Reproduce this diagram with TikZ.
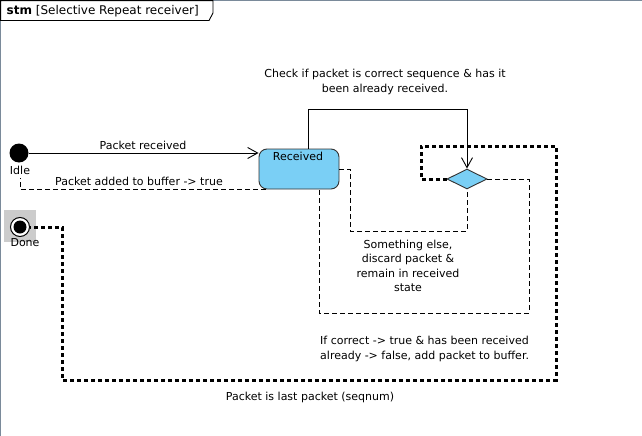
\documentclass[tikz,border=0pt]{standalone}
\usepackage{fontspec}
\setmainfont{DejaVu Sans}
\usetikzlibrary{arrows.meta,shapes.geometric}
\definecolor{stfill}{RGB}{122,207,245}
\definecolor{framecol}{RGB}{122,138,154}
\definecolor{donebg}{RGB}{204,204,204}
\tikzset{
  lbl/.style={inner sep=0pt, font=\fontsize{11}{14.3}\selectfont, align=center},
  statebox/.style={draw=black!80, line width=0.9pt, fill=stfill, rounded corners=8pt, minimum width=80pt, minimum height=40pt, inner sep=0pt},
  decbox/.style={diamond, draw=black!80, line width=0.9pt, fill=stfill, minimum width=40pt, minimum height=20pt, inner sep=0pt},
  solidedge/.style={line width=0.9pt, -{Straight Barb[length=10pt,width=11pt,line width=0.9pt]}},
  dashedge/.style={line width=0.9pt, dash pattern=on 5pt off 3pt},
  dotedge/.style={line width=3pt, dash pattern=on 4pt off 3pt},
}
\begin{document}
\begin{tikzpicture}[x=1pt,y=-1pt]
\useasboundingbox (0,0) rectangle (642,436);
\fill[white] (0,0) rectangle (642,436);
% frame
\draw[framecol, line width=1.2pt] (0.6,436) -- (0.6,0.6) -- (642,0.6);
\draw[black, line width=0.9pt, fill=white] (0.6,0.6) -- (213,0.6) -- (213,13) -- (209,20.5) -- (0.6,20.5) -- cycle;
\node[lbl, anchor=west, font=\fontsize{12}{14}\selectfont] (title) at (6.5,11) {\textbf{stm} [Selective Repeat receiver]};

% nodes
\node[circle, fill=black, minimum size=19pt, inner sep=0pt] (idle) at (19,153) {};
\node[lbl] (idlelbl) at (20,170) {Idle};
\node[fill=donebg, minimum size=32pt, inner sep=0pt] (donesq) at (20,226) {};
\node[circle, draw=black, line width=1pt, fill=white, minimum size=19pt, inner sep=0pt] (done) at (20,227) {};
\node[circle, fill=black, minimum size=13pt, inner sep=0pt] (donein) at (20,227) {};
\node[lbl] (donelbl) at (25,243) {Done};

\node[statebox] (rec) at (299,169) {};
\node[lbl] (reclbl) at (298,156) {Received};
\node[decbox] (dec) at (467,179) {};

% coordinates
\coordinate (cidle) at (20,178);
\coordinate (ctop) at (308,109);
\coordinate (cse) at (350,231);
\coordinate (cif) at (529,313);
\coordinate (cd1) at (421,146);
\coordinate (cd2) at (556,380);
\coordinate (cd3) at (62,227);

% edges
\draw[solidedge] (idle) -- (idle -| rec.west);
\node[lbl] (l1) at (143,145) {Packet received};

\draw[dashedge] ([xshift=7pt]rec.south west) -| (cidle);
\node[lbl] (l2) at (139,181) {Packet added to buffer -> true};

\draw[solidedge] (ctop |- rec.north) -- (ctop) -| (dec.north);
\node[lbl] (l3) at (385,82) {Check if packet is correct sequence \& has it\\been already received.};

\draw[dashedge] (rec.east) -| (cse) -| (dec.south);
\node[lbl] (l4) at (408,266) {Something else,\\discard packet \&\\remain in received\\state};

\draw[dashedge] (dec.east) -| (cif) -| ([xshift=20pt]rec.south);
\node[lbl, align=left, anchor=west] (l5) at (320,349) {If correct -> true \& has been received\\already -> false, add packet to buffer.};

\draw[dotedge] (dec.west) -| (cd1) -| (cd2) -| (cd3) -- (done.east);
\node[lbl] (l6) at (310,397) {Packet is last packet (seqnum)};
\end{tikzpicture}
\end{document}
